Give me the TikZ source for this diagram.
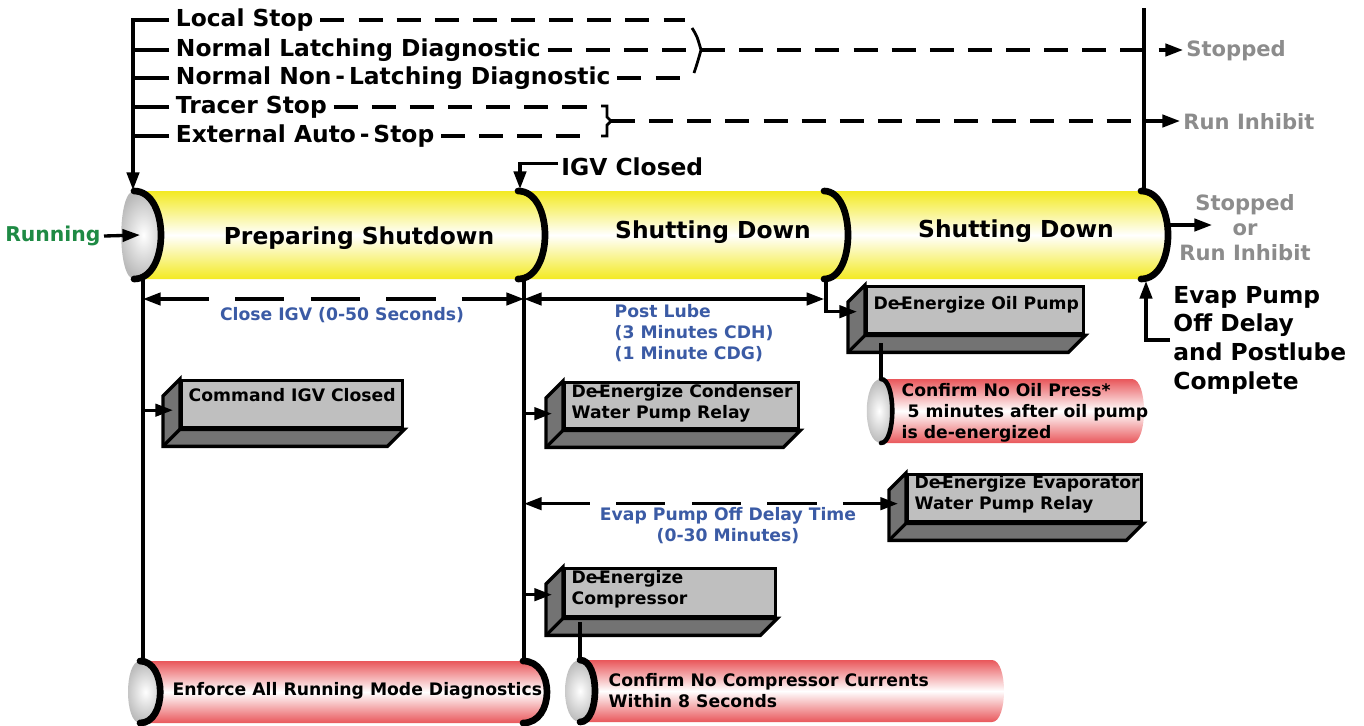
\documentclass[tikz,border=0pt]{standalone}
\usepackage{fontspec}
\setmainfont{DejaVu Sans}
\usetikzlibrary{arrows.meta,calc}

\definecolor{tubeyellow}{HTML}{F3EA22}
\definecolor{tubered}{HTML}{E9575B}
\definecolor{lblblue}{HTML}{3B5BA5}
\definecolor{rungreen}{HTML}{1E8A44}
\definecolor{endgray}{HTML}{8C8C8C}
\definecolor{boxface}{HTML}{BFBFBF}
\definecolor{boxside}{HTML}{737373}

\newcommand{\px}{0.02cm}
\newcommand{\deen}{De\kern-1.6pt-\kern-1.6pt Energize}

\begin{document}
\begin{tikzpicture}[x=\px, y=-\px, line width=1.9pt]
  \tikzset{
    big/.style={font=\fontsize{13.3}{16.3}\selectfont\bfseries, inner sep=1pt, align=left},
    small/.style={font=\fontsize{9.8}{12}\selectfont\bfseries, inner sep=0pt, align=left},
    lbl/.style={small, text=lblblue, align=center},
    endlbl/.style={font=\fontsize{12}{14.2}\selectfont\bfseries, text=endgray, inner sep=1pt, align=center},
    arr/.style={-{Triangle[length=10pt,width=7pt]}},
    darr/.style={{Triangle[length=10pt,width=7pt]}-{Triangle[length=10pt,width=7pt]}},
    shortdash/.style={dash pattern=on 13.7pt off 8pt},
    longdash/.style={dash pattern=on 28pt off 15pt},
    rim/.style={line width=3.8pt, line cap=round},
    face/.style={draw, fill=boxface, inner sep=0pt},
    yellowtube/.style={top color=tubeyellow, bottom color=tubeyellow, middle color=white},
    redtube/.style={top color=tubered, bottom color=tubered, middle color=white},
    capshade/.style={inner color=white, outer color=gray!55}
  }
  \useasboundingbox (0,0) rectangle (1364,725);

  % main tube
  \shade[yellowtube] (134,191) -- (1141,191) .. controls (1177,191) and (1177,279) .. (1141,279)
    -- (134,279) .. controls (170,279) and (170,191) .. (134,191) -- cycle;
  \shade[capshade] (134,191) .. controls (170,191) and (170,279) .. (134,279)
    .. controls (117,279) and (117,191) .. (134,191) -- cycle;
  \foreach \x/\bulge in {134/36, 518/36, 824/32, 1141/36}
    \draw[rim] (\x,191) .. controls (\x+\bulge,191) and (\x+\bulge,279) .. (\x,279);
  \node[big] (prep) at (359,238) {Preparing Shutdown};
  \node[big] (shut1) at (713,232) {Shutting Down};
  \node[big] (shut2) at (1016,231) {Shutting Down};

  \coordinate (capin) at (140,235);
  \node[big, font=\fontsize{11.6}{14}\selectfont\bfseries, text=rungreen, anchor=east] (run) at (104,236) {Running};
  \draw[arr] (run.east) -- (capin);

  % stop requests
  \foreach \y/\n/\txt in {20/ls/Local Stop, 50/nld/Normal Latching Diagnostic,
      78/nnd/{Normal Non\,-\,Latching Diagnostic}, 107/ts/Tracer Stop,
      136/eas/{External Auto\,-\,Stop}}
    \node[big, inner sep=3pt, anchor=west] (\n) at (169,\y) {\txt};
  \coordinate (captop) at (133,190);
  \draw[arr] (ls.west) -| (captop);
  \foreach \n in {nld,nnd,ts,eas}
    \draw (\n.west) -- (\n.west -| captop);

  \coordinate (brAtop) at (692,28);
  \coordinate (brA) at (701,50);
  \coordinate (brAbot) at (694,73);
  \coordinate (brBtop) at (601,106);
  \coordinate (brB) at (611,121);
  \coordinate (brBbot) at (601,136);
  \draw[shortdash] (ls.east) -- ([xshift=-4pt]ls.east -| brAtop);
  \draw[shortdash] (nld.east) -- (brA);
  \draw[shortdash] (nnd.east) -- ([xshift=-6pt]nnd.east -| brAbot);
  \draw[shortdash] (ts.east) -- ([xshift=-7pt]ts.east -| brBtop);
  \draw[shortdash] (eas.east) -- ([xshift=-7pt]eas.east -| brBbot);
  \draw[line width=1.6pt] (brAtop) .. controls (697,36) .. (brA) .. controls (697,64) .. (brAbot);
  \draw[line width=1.6pt] (brBtop) -- (607,106) -- (607,117) -- (brB) -- (607,125) -- (607,136) -- (brBbot);

  \node[endlbl, anchor=west] (stopped) at (1183,51) {Stopped};
  \node[endlbl, anchor=west] (inhibit) at (1180,122) {Run Inhibit};
  \draw[shortdash, arr] (brA) -- (brA -| stopped.west);
  \draw[shortdash, arr] (brB) -- (brB -| inhibit.west);

  \coordinate (rtop) at (1144,8);
  \coordinate (rbot) at (1144,190);
  \draw (rtop) -- (rbot);

  \node[big, anchor=west] (igv) at (558,167) {IGV Closed};
  \coordinate (seg1top) at (520,189);
  \draw[arr] ([yshift=2pt]igv.west) -| (seg1top);

  % leaving the tube
  \coordinate (endout) at (1168,225);
  \coordinate (endtip) at (1212,225);
  \draw[arr] (endout) -- (endtip);
  \node[endlbl] (endstate) at (1245,228) {Stopped\\or\\Run Inhibit};
  \node[big, anchor=west] (evapdone) at (1170,340) {Evap Pump\\Off Delay\\and Postlube\\Complete};
  \coordinate (endbot) at (1146,281);
  \draw[arr] (evapdone.west) -| (endbot);

  % time lines
  \coordinate (a0) at (143,279);
  \coordinate (a1) at (143,661);
  \coordinate (b0) at (524,279);
  \coordinate (b1) at (524,661);
  \coordinate (c0) at (826,279);
  \coordinate (dimy) at (0,299);
  \draw (a0) -- (a1);
  \draw (b0) -- (b1);
  \draw[darr, longdash] (a0 |- dimy) -- (b0 |- dimy);
  \draw[darr] (b0 |- dimy) -- ([xshift=-1pt]c0 |- dimy);
  \node[lbl] (closeigv) at (342,315) {Close IGV (0-50 Seconds)};
  \node[lbl, align=left, anchor=west] (postlube) at (613,333) {Post Lube\\(3 Minutes CDH)\\(1 Minute CDG)};
  \node[lbl] (evapdelay) at (728,526) {Evap Pump Off Delay Time\\(0-30 Minutes)};

  % action boxes
  \foreach \n/\x/\y/\w/\h/\dy/\txt in {
      cmd/180/379/221/47/16/{Command IGV Closed},
      cond/563/381/234/46/22/{\deen{} Condenser\\Water Pump Relay},
      oil/865/285/217/47/20/{\deen{} Oil Pump},
      evap/906/473/234/47/21/{\deen{} Evaporator\\Water Pump Relay},
      comp/563/567/211/48/22/{\deen\\Compressor}} {
    \node[face, minimum width=\w*\px, minimum height=\h*\px, anchor=north west] (\n) at (\x,\y) {};
    \filldraw[fill=boxside] (\n.north west) -- ++(-17,17) -- ([shift={(-17,17)}]\n.south west)
      -- ([shift={(-17,17)}]\n.south east) -- (\n.south east) -- (\n.south west) -- cycle;
    \draw (\n.south west) -- ++(-17,17);
    \node[small, anchor=west] (\n-t) at (\x+7,\y+\dy) {\txt};
  }
  \coordinate (cmdin) at ([shift={(-7,6)}]cmd.west);
  \coordinate (condin) at ([shift={(-11,8)}]cond.west);
  \coordinate (compin) at ([shift={(-11,2)}]comp.west);
  \coordinate (oilin) at ([shift={(-8,1.5)}]oil.west);
  \coordinate (evapin) at ([shift={(-8,5.5)}]evap.west);
  \draw[arr] (a0 |- cmdin) -- (cmdin);
  \draw[arr] (b0 |- condin) -- (condin);
  \draw[arr] (b0 |- compin) -- (compin);
  \draw[arr] (c0) |- (oilin);
  \draw[darr, longdash] (b0 |- evapin) -- (evapin);

  % check tubes
  \shade[redtube] (140,661) -- (523,661) .. controls (555,661) and (555,723) .. (523,723)
    -- (140,723) .. controls (167,723) and (167,661) .. (140,661) -- cycle;
  \shade[capshade] (140,661) .. controls (167,661) and (167,723) .. (140,723)
    .. controls (124,723) and (124,661) .. (140,661) -- cycle;
  \draw[rim] (140,661) .. controls (167,661) and (167,723) .. (140,723);
  \draw[rim] (523,661) .. controls (555,661) and (555,723) .. (523,723);
  \node[small, anchor=west] (enforce) at (171,691) {Enforce All Running Mode Diagnostics};

  \shade[redtube] (580,660) -- (992,660) .. controls (1008,660) and (1008,722) .. (992,722)
    -- (580,722) .. controls (600,722) and (600,660) .. (580,660) -- cycle;
  \shade[capshade] (580,660) .. controls (600,660) and (600,722) .. (580,722)
    .. controls (560,722) and (560,660) .. (580,660) -- cycle;
  \draw[rim] (580,660) .. controls (600,660) and (600,722) .. (580,722);
  \node[small, anchor=west] (compchk) at (607,691) {Confirm No Compressor Currents\\Within 8 Seconds};

  \shade[redtube] (881,379) -- (1132,379) .. controls (1148,379) and (1148,443) .. (1132,443)
    -- (881,443) .. controls (896,443) and (896,379) .. (881,379) -- cycle;
  \shade[capshade] (881,379) .. controls (896,379) and (896,443) .. (881,443)
    .. controls (862,443) and (862,379) .. (881,379) -- cycle;
  \draw[rim, line width=2.6pt] (881,379) .. controls (896,379) and (896,443) .. (881,443);
  \node[small, anchor=west] (oilchk) at (900,413) {Confirm No Oil Press*\\\ 5 minutes after oil pump\\is de-energized};

  \coordinate (oilfoot) at ([shift={(16,8)}]oil.south west);
  \coordinate (presstop) at (881,379);
  \coordinate (compfoot) at ([shift={(17,4)}]comp.south west);
  \coordinate (comptop) at (580,660);
  \draw (oilfoot) -- (presstop);
  \draw (compfoot) -- (comptop);
\end{tikzpicture}
\end{document}
